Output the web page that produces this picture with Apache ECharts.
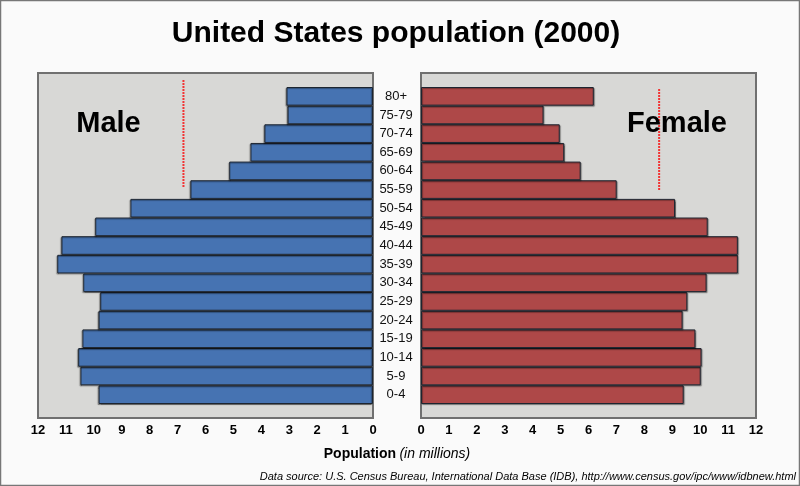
<!DOCTYPE html>
<html>
<head>
<meta charset="utf-8">
<script src="https://cdn.jsdelivr.net/npm/echarts@6/dist/echarts.min.js"></script>
<style>
html,body{margin:0;padding:0;background:#fafafa;}
#chart{width:800px;height:486px;}
</style>
</head>
<body>
<div id="chart"></div>
<script>
// Age groups, bottom to top
const ageGroups = ['0-4','5-9','10-14','15-19','20-24','25-29','30-34','35-39','40-44','45-49','50-54','55-59','60-64','65-69','70-74','75-79','80+'];
// Population in millions
const maleValues   = [9.83, 10.48, 10.56, 10.41, 9.83, 9.77, 10.38, 11.31, 11.16, 9.95, 8.69, 6.54, 5.15, 4.39, 3.89, 3.06, 3.10];
const femaleValues = [9.41, 10.02, 10.05, 9.83, 9.37, 9.54, 10.23, 11.35, 11.35, 10.27, 9.10, 7.01, 5.72, 5.13, 4.97, 4.39, 6.19];
const axisTicks = [0,1,2,3,4,5,6,7,8,9,10,11,12];
// Dotted reference lines: [population value, age-group position] (top and bottom ends)
const maleRefLine   = [[6.79, 16.88], [6.79, 11.14]];
const femaleRefLine = [[8.53, 16.39], [8.53, 10.92]];

const FONT = "'Liberation Sans', Arial, sans-serif";
const boxTop = 73, boxH = 345, barTop = 87, barH = 317;
const maleLeft = 38, femaleLeft = 421, boxW = 335;

const chart = echarts.init(document.getElementById('chart'), null, {renderer:'canvas'});

const barStyle = (fill) => ({
  color: fill, borderColor: '#1d2530', borderWidth: 1,
  shadowColor: 'rgba(0,0,0,0.35)', shadowBlur: 1, shadowOffsetX: -1, shadowOffsetY: 1
});

const valueAxis = (grid, inverse) => ({
  gridIndex:grid, type:'value', min:0, max:12, interval:1, inverse:inverse,
  axisLine:{show:false}, axisTick:{show:false}, splitLine:{show:false},
  axisLabel:{margin:20, color:'#000', fontFamily:FONT, fontWeight:'bold', fontSize:13,
    formatter: (v) => axisTicks.includes(v) ? String(v) : ''}
});

chart.setOption({
  backgroundColor: '#fafafa',
  animation: false,
  grid: [
    {left:maleLeft, top:boxTop, width:boxW, height:boxH, show:true, backgroundColor:'#d8d8d6', borderColor:'#707070', borderWidth:2},
    {left:femaleLeft, top:boxTop, width:boxW, height:boxH, show:true, backgroundColor:'#d8d8d6', borderColor:'#707070', borderWidth:2},
    {left:maleLeft, top:barTop, width:boxW, height:barH},
    {left:femaleLeft, top:barTop, width:boxW, height:barH}
  ],
  xAxis: [
    {gridIndex:0, type:'value', show:false, min:0, max:12},
    {gridIndex:1, type:'value', show:false, min:0, max:12},
    valueAxis(2, true),
    valueAxis(3, false)
  ],
  yAxis: [
    {gridIndex:0, type:'value', show:false},
    {gridIndex:1, type:'value', show:false},
    {gridIndex:2, type:'category', data:ageGroups, show:false},
    {gridIndex:3, type:'category', data:ageGroups,
      axisLine:{show:false}, axisTick:{show:false},
      axisLabel:{align:'center', margin:25, color:'#111', fontFamily:FONT, fontSize:13}},
    {gridIndex:2, type:'value', show:false, min:-0.5, max:16.5},
    {gridIndex:3, type:'value', show:false, min:-0.5, max:16.5}
  ],
  series: [
    {type:'bar', name:'Male', xAxisIndex:2, yAxisIndex:2, data:maleValues, barCategoryGap:'0%',
      itemStyle: barStyle('#4673b2'), z:3},
    {type:'bar', name:'Female', xAxisIndex:3, yAxisIndex:3, data:femaleValues, barCategoryGap:'0%',
      itemStyle: Object.assign(barStyle('#ae4848'), {shadowOffsetX:1}), z:3},
    {type:'line', xAxisIndex:2, yAxisIndex:4, data:maleRefLine, symbol:'none', clip:false, z:4,
      lineStyle:{color:'#f23434', width:2, type:[2,1]}},
    {type:'line', xAxisIndex:3, yAxisIndex:5, data:femaleRefLine, symbol:'none', clip:false, z:4,
      lineStyle:{color:'#f23434', width:2, type:[2,1]}}
  ],
  graphic: [
    {type:'rect', shape:{x:0.5, y:0.5, width:799, height:485}, style:{fill:'none', stroke:'#777', lineWidth:1.5}, z:100, silent:true},
    {type:'text', x:396, y:34, z:10, style:{text:'United States population (2000)', font:"bold 30px " + FONT, fill:'#000', textAlign:'center', textVerticalAlign:'middle'}},
    {type:'text', x:108.5, y:123.5, z:10, style:{text:'Male', font:"bold 29px " + FONT, fill:'#000', textAlign:'center', textVerticalAlign:'middle'}},
    {type:'text', x:677, y:123.5, z:10, style:{text:'Female', font:"bold 29px " + FONT, fill:'#000', textAlign:'center', textVerticalAlign:'middle'}},
    {type:'text', x:397, y:454, z:10, style:{text:'{b|Population} {i|(in millions)}', textAlign:'center', textVerticalAlign:'middle',
      rich:{b:{fontFamily:FONT, fontWeight:'bold', fontSize:14, fill:'#000'}, i:{fontFamily:FONT, fontStyle:'italic', fontSize:14, fill:'#000'}}}},
    {type:'text', x:796, y:477, z:10, style:{text:'Data source: U.S. Census Bureau, International Data Base (IDB), http://www.census.gov/ipc/www/idbnew.html',
      font:"italic 11px " + FONT, fill:'#000', textAlign:'right', textVerticalAlign:'middle'}}
  ]
});
</script>
</body>
</html>
